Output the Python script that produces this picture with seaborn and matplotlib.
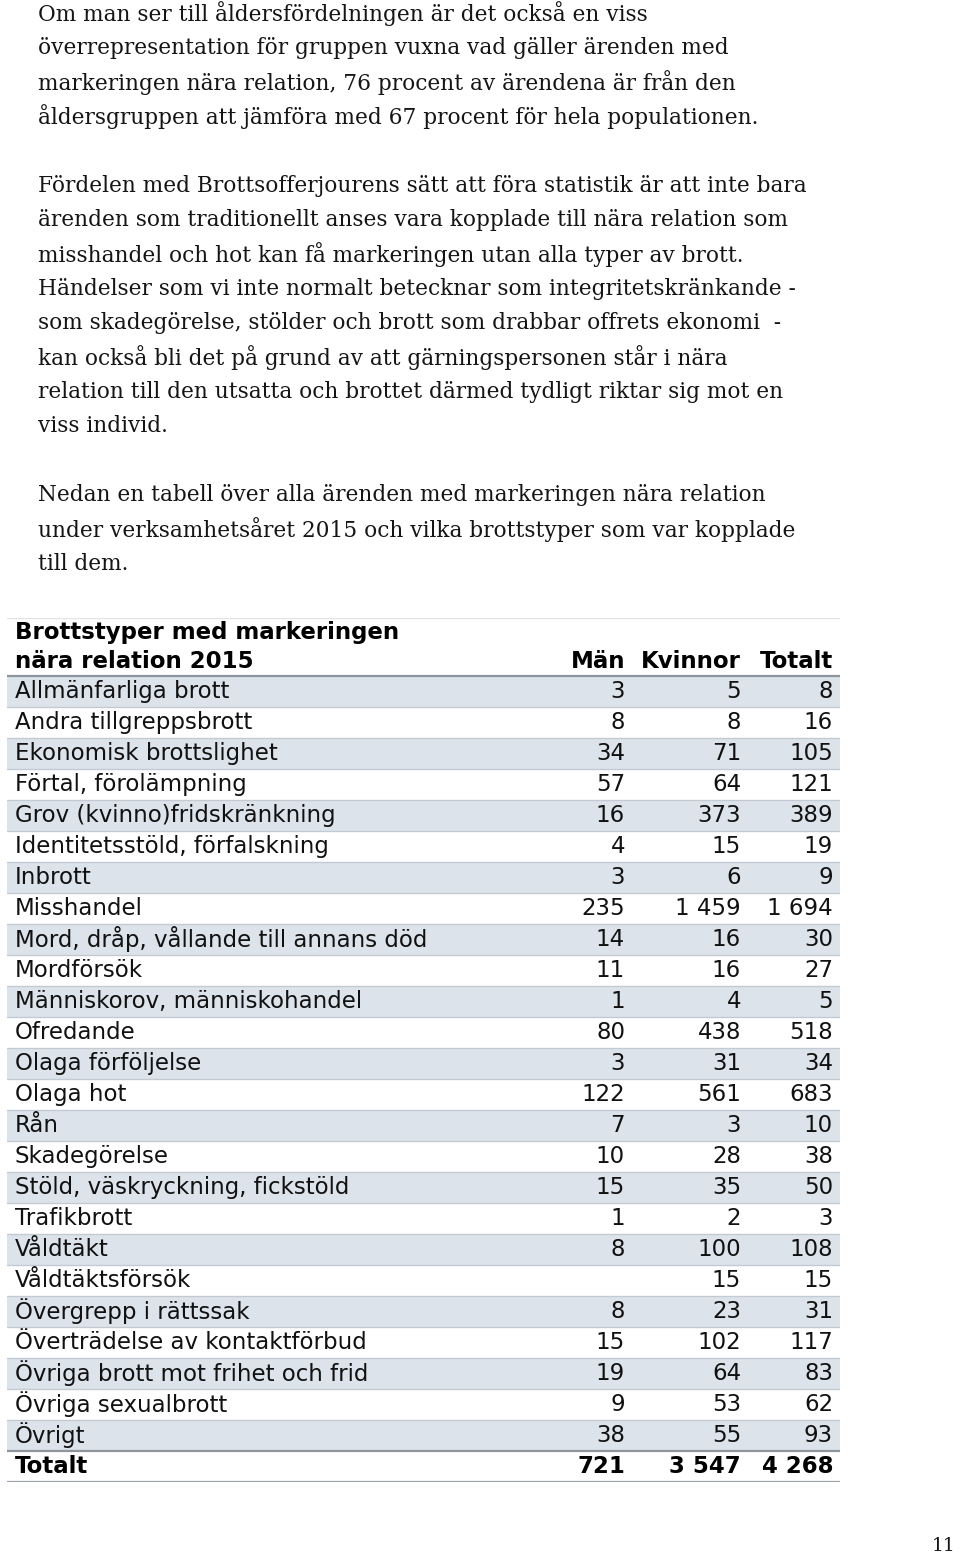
import numpy as np
import matplotlib
matplotlib.use("Agg")
import matplotlib.pyplot as plt
from matplotlib.colors import ListedColormap
import seaborn as sns

# -------------------------------------------------------------------------
# data
# -------------------------------------------------------------------------

crime_types = [
    "Allmänfarliga brott", "Andra tillgreppsbrott", "Ekonomisk brottslighet",
    "Förtal, förolämpning", "Grov (kvinno)fridskränkning",
    "Identitetsstöld, förfalskning", "Inbrott", "Misshandel",
    "Mord, dråp, vållande till annans död", "Mordförsök",
    "Människorov, människohandel", "Ofredande", "Olaga förföljelse",
    "Olaga hot", "Rån", "Skadegörelse", "Stöld, väskryckning, fickstöld",
    "Trafikbrott", "Våldtäkt", "Våldtäktsförsök", "Övergrepp i rättssak",
    "Överträdelse av kontaktförbud", "Övriga brott mot frihet och frid",
    "Övriga sexualbrott", "Övrigt",
]
men = [3, 8, 34, 57, 16, 4, 3, 235, 14, 11, 1, 80, 3, 122, 7, 10, 15, 1, 8,
       None, 8, 15, 19, 9, 38]
women = [5, 8, 71, 64, 373, 15, 6, 1459, 16, 16, 4, 438, 31, 561, 3, 28, 35,
         2, 100, 15, 23, 102, 64, 53, 55]
total = [8, 16, 105, 121, 389, 19, 9, 1694, 30, 27, 5, 518, 34, 683, 10, 38,
         50, 3, 108, 15, 31, 117, 83, 62, 93]
total_label = "Totalt"
total_row = [721, 3547, 4268]
columns = ["Män", "Kvinnor", "Totalt"]
table_title = ["Brottstyper med markeringen", "nära relation 2015"]

paragraphs = [
    ["Om man ser till åldersfördelningen är det också en viss",
     "överrepresentation för gruppen vuxna vad gäller ärenden med",
     "markeringen nära relation, 76 procent av ärendena är från den",
     "åldersgruppen att jämföra med 67 procent för hela populationen."],
    ["Fördelen med Brottsofferjourens sätt att föra statistik är att inte bara",
     "ärenden som traditionellt anses vara kopplade till nära relation som",
     "misshandel och hot kan få markeringen utan alla typer av brott.",
     "Händelser som vi inte normalt betecknar som integritetskränkande -",
     "som skadegörelse, stölder och brott som drabbar offrets ekonomi  -",
     "kan också bli det på grund av att gärningspersonen står i nära",
     "relation till den utsatta och brottet därmed tydligt riktar sig mot en",
     "viss individ."],
    ["Nedan en tabell över alla ärenden med markeringen nära relation",
     "under verksamhetsåret 2015 och vilka brottstyper som var kopplade",
     "till dem."],
]
page_number = "11"


def fmt(v):
    if v is None:
        return ""
    return f"{v:,}".replace(",", " ")


# -------------------------------------------------------------------------
# figure
# -------------------------------------------------------------------------

sns.set_theme(style="white")
plt.rcParams["font.family"] = ["DejaVu Sans"]

W, H = 960, 1556
fig = plt.figure(figsize=(W / 100, H / 100), dpi=100)
fig.patch.set_facecolor("white")


def fx(x):
    return x / W


def fy(y):
    return 1 - y / H


# body text
serif = ["DejaVu Serif"]
para_tops = [14, 186, 495]
line_h = 34.3
for top, lines in zip(para_tops, paragraphs):
    for i, line in enumerate(lines):
        fig.text(fx(38), fy(top + i * line_h), line, family=serif,
                 fontsize=15.55, color="#151515", va="center", ha="left")

fig.text(fx(956), fy(1546), page_number, family=serif, fontsize=13.5,
         color="#151515", va="center", ha="right")

# table
left_px, right_px = 7, 840
top_px, row_px = 618, 31
n_rows = len(crime_types) + 1
head_rows = 58 / row_px
bottom_px = 676 + n_rows * row_px
ax = fig.add_axes([fx(left_px), fy(bottom_px), fx(right_px - left_px),
                   (bottom_px - top_px) / H])

shade = np.array([[1 if (i % 2 == 0 and i < len(crime_types)) else 0]
                  for i in range(n_rows)])
sns.heatmap(shade, ax=ax, cmap=ListedColormap(["white", "#dce3ea"]),
            cbar=False, vmin=0, vmax=1)
ax.set_xlim(0, 1)
ax.set_ylim(n_rows, -head_rows)
ax.axis("off")

span = right_px - left_px


def cx(px):
    return (px - left_px) / span


col_right = [cx(625), cx(741), cx(833)]
fs = 16.5

# header
ax.axhline(-head_rows, color="#e2e4e6", lw=1)
ax.text(cx(15), -head_rows + 15 / row_px, table_title[0], fontsize=fs,
        fontweight="bold", va="center", ha="left", color="black")
ax.text(cx(15), -head_rows + 43 / row_px, table_title[1], fontsize=fs,
        fontweight="bold", va="center", ha="left", color="black")
for c, name in enumerate(columns):
    ax.text(col_right[c], -head_rows + 43 / row_px, name, fontsize=fs,
            fontweight="bold", va="center", ha="right", color="black")
ax.axhline(0, color="#8e959c", lw=1.6)

# body rows
for i, label in enumerate(crime_types):
    yc = i + 0.5
    ax.text(cx(15), yc, label, fontsize=fs, va="center", ha="left",
            color="#111111")
    for c, vals in enumerate([men, women, total]):
        ax.text(col_right[c], yc, fmt(vals[i]), fontsize=fs, va="center",
                ha="right", color="#111111")
    if 0 < i:
        ax.axhline(i, color="#c3cad1", lw=1)

ax.axhline(len(crime_types), color="#8e959c", lw=1.6)
yc = len(crime_types) + 0.5
ax.text(cx(15), yc, total_label, fontsize=fs, fontweight="bold", va="center",
        ha="left", color="black")
for c, v in enumerate(total_row):
    ax.text(col_right[c], yc, fmt(v), fontsize=fs, fontweight="bold",
            va="center", ha="right", color="black")
ax.axhline(n_rows, color="#9aa1a8", lw=1.6)

fig.savefig("out.png", dpi=100, facecolor="white")
plt.close(fig)
